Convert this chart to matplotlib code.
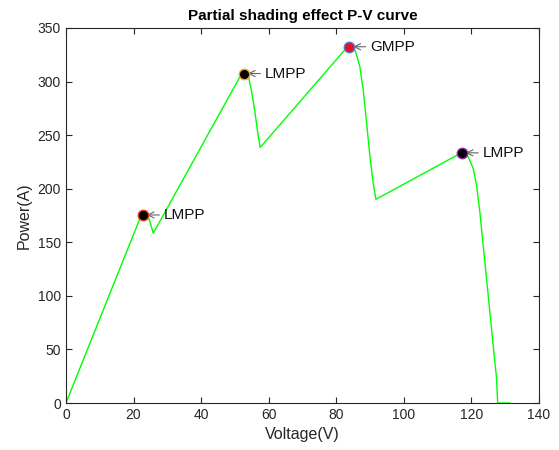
import matplotlib
matplotlib.use("Agg")
import matplotlib.pyplot as plt

# P-V curve
voltage = [0, 22.0, 22.7, 23.6, 24.36, 25.15, 25.84,
           51.6, 52.6, 53.3, 53.95, 54.96, 55.93, 56.73, 57.5,
           82.8, 83.8, 84.7, 85.53, 86.2, 87.0, 88.0, 89.0, 90.0, 90.95, 91.75,
           116.2, 117.1, 118.1, 119.06, 120.54, 121.54, 122.52, 123.5, 124.5, 125.48, 126.46, 127.47, 127.8, 131.4]
power = [0, 173.0, 175.5, 176.0, 173.9, 166.1, 158.4,
         305.0, 307.5, 307.8, 306.1, 290.6, 271.9, 253.2, 238.5,
         330.5, 332.5, 332.0, 329.5, 323.0, 313.9, 292.1, 261.3, 229.9, 205.1, 190.1,
         232.0, 233.5, 232.8, 229.9, 219.1, 203.5, 178.6, 147.5, 116.4, 85.2, 54.1, 23.1, 0, 0]

# maximum power points
mpp_v = [22.7, 52.6, 83.8, 117.1]
mpp_p = [175.5, 307.5, 332.5, 233.5]
mpp_labels = ["LMPP", "LMPP", "GMPP", "LMPP"]
mpp_face = ["black", "black", "#e8102a", "black"]
mpp_edge = ["#e0401a", "#f0a020", "#4a80d0", "#a020b0"]

title = "Partial shading effect P-V curve"
xlabel = "Voltage(V)"
ylabel = "Power(A)"
xticks = [0, 20, 40, 60, 80, 100, 120, 140]
yticks = [0, 50, 100, 150, 200, 250, 300, 350]

plt.rcParams['font.family'] = ['Liberation Sans', 'DejaVu Sans']

fig = plt.figure(figsize=(5.59, 4.50), dpi=100)
ax = fig.add_axes([0.118, 0.1044, 0.846, 0.8334])

ax.plot(voltage, power, color="#00ff00", lw=1.0)

for v, p, lab, fc, ec in zip(mpp_v, mpp_p, mpp_labels, mpp_face, mpp_edge):
    ax.plot([v], [p], 'o', ms=7.5, mfc=fc, mec=ec, mew=1.0, zorder=5)
    ax.annotate(lab, xy=(v, p), xytext=(15, 0), textcoords='offset points',
                va='center', ha='left', fontsize=11, color='#111111',
                arrowprops=dict(arrowstyle='->', color='#666666', lw=0.8,
                                shrinkA=1, shrinkB=3))

ax.set_xlim(0, 140)
ax.set_ylim(0, 350)
ax.set_xticks(xticks)
ax.set_yticks(yticks)
ax.tick_params(direction='in', top=True, right=True, labelsize=10,
               color='#262626', labelcolor='#262626', length=4)
for s in ax.spines.values():
    s.set_color('#262626')
    s.set_linewidth(0.8)
ax.set_xlabel(xlabel, fontsize=11.5, color='#262626')
ax.set_ylabel(ylabel, fontsize=11.5, color='#262626')
ax.set_title(title, fontsize=11, fontweight='bold', pad=6)

fig.savefig("out.png", dpi=100)
